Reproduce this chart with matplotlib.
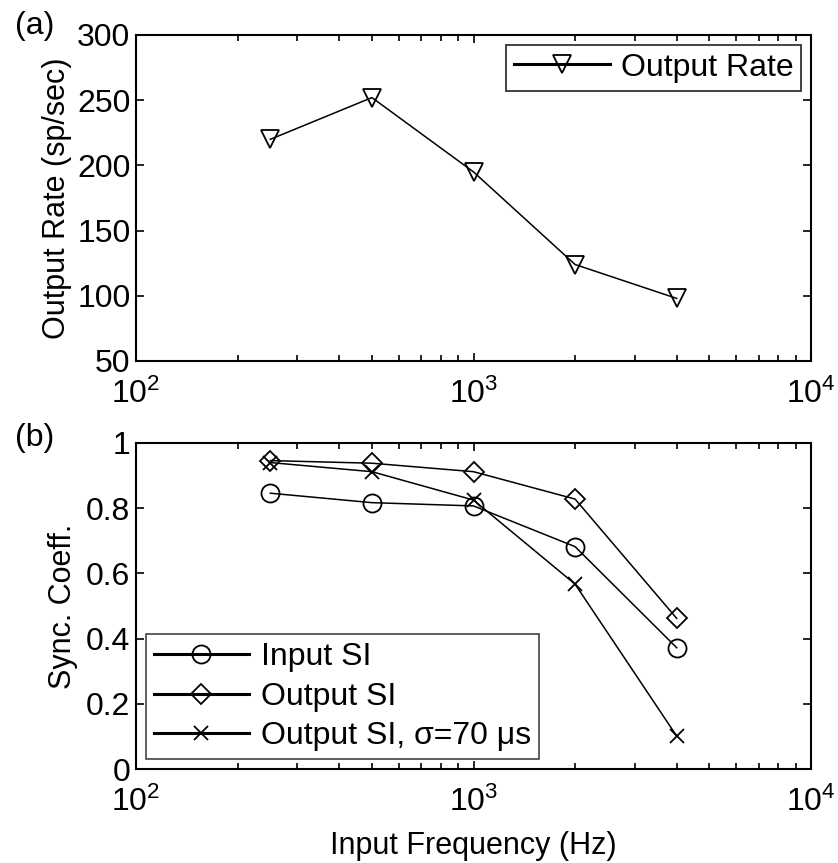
import matplotlib
matplotlib.use("Agg")
import matplotlib.pyplot as plt
from matplotlib.ticker import LogLocator, NullFormatter, FixedLocator

plt.rcParams['font.family'] = ['Liberation Sans', 'DejaVu Sans']
plt.rcParams['mathtext.fontset'] = 'custom'
plt.rcParams['mathtext.rm'] = 'Liberation Sans'
plt.rcParams['mathtext.it'] = 'Liberation Sans:italic'
plt.rcParams['mathtext.default'] = 'regular'

freq = [250, 500, 1000, 2000, 4000]
output_rate = [220, 252, 195, 124, 98]
input_si = [0.846, 0.817, 0.807, 0.682, 0.372]
output_si = [0.946, 0.938, 0.912, 0.828, 0.462]
output_si_sigma = [0.940, 0.912, 0.825, 0.567, 0.101]

rate_ticks = [50, 100, 150, 200, 250, 300]
sync_ticks = [0, 0.2, 0.4, 0.6, 0.8, 1]
sync_tick_labels = ['0', '0.2', '0.4', '0.6', '0.8', '1']

W, H = 838, 863
fig = plt.figure(figsize=(W / 100, H / 100), dpi=100)

def box(l, t, r, b):
    return [l / W, 1 - b / H, (r - l) / W, (b - t) / H]

ax1 = fig.add_axes(box(136, 35, 811, 361))
ax2 = fig.add_axes(box(136, 443, 811, 769))

fs = 23
for ax in (ax1, ax2):
    ax.set_xscale('log')
    ax.set_xlim(100, 10000)
    ax.xaxis.set_major_locator(FixedLocator([100, 1000, 10000]))
    ax.xaxis.set_minor_locator(LogLocator(base=10, subs=range(2, 10)))
    ax.xaxis.set_minor_formatter(NullFormatter())
    ax.set_xticklabels(['10$^{2}$', '10$^{3}$', '10$^{4}$'])
    ax.tick_params(which='both', direction='in', top=True, right=True,
                   labelsize=fs, width=1.2, colors='black')
    ax.tick_params(which='major', length=6)
    ax.tick_params(which='minor', length=4)
    ax.tick_params(axis='x', pad=13)
    ax.tick_params(axis='y', pad=4)
    for s in ax.spines.values():
        s.set_linewidth(1.5)

ms = 13
ax1.plot(freq, output_rate, color='black', lw=1.1, marker='v', ms=ms,
         mfc='none', mec='black', mew=1.3, label='Output Rate')
ax1.set_ylim(50, 300)
ax1.set_yticks(rate_ticks)
ax1.set_ylabel('Output Rate (sp/sec)', fontsize=fs - 1, labelpad=4)
leg1 = ax1.legend(loc='upper right', fontsize=fs, frameon=True, fancybox=False,
                  edgecolor='black', handlelength=3.0, borderaxespad=0.3,
                  borderpad=0.25, handletextpad=0.35)
leg1.get_frame().set_linewidth(1.3)
for l in leg1.get_lines():
    l.set_linewidth(2.2)

ax2.plot(freq, input_si, color='black', lw=1.1, marker='o', ms=ms,
         mfc='none', mec='black', mew=1.3, label='Input SI')
ax2.plot(freq, output_si, color='black', lw=1.1, marker='D', ms=ms * 0.8,
         mfc='none', mec='black', mew=1.3, label='Output SI')
ax2.plot(freq, output_si_sigma, color='black', lw=1.1, marker='x', ms=ms * 0.75,
         mfc='none', mec='black', mew=1.3, label='Output SI, σ=70 μs')
ax2.set_ylim(0, 1)
ax2.set_yticks(sync_ticks)
ax2.set_yticklabels(sync_tick_labels)
ax2.set_ylabel('Sync. Coeff.', fontsize=fs - 1, labelpad=6)
ax2.set_xlabel('Input Frequency (Hz)', fontsize=fs - 1, labelpad=9)
leg2 = ax2.legend(loc='lower left', fontsize=fs, frameon=True, fancybox=False,
                  edgecolor='black', handlelength=3.0, borderaxespad=0.3,
                  borderpad=0.25, handletextpad=0.35, labelspacing=0.3)
leg2.get_frame().set_linewidth(1.1)
for l in leg2.get_lines():
    l.set_linewidth(2.2)

fig.text(15 / W, 1 - 26 / H, '(a)', fontsize=fs, va='center', ha='left')
fig.text(15 / W, 1 - 438 / H, '(b)', fontsize=fs, va='center', ha='left')

fig.savefig('out.png', dpi=100)
